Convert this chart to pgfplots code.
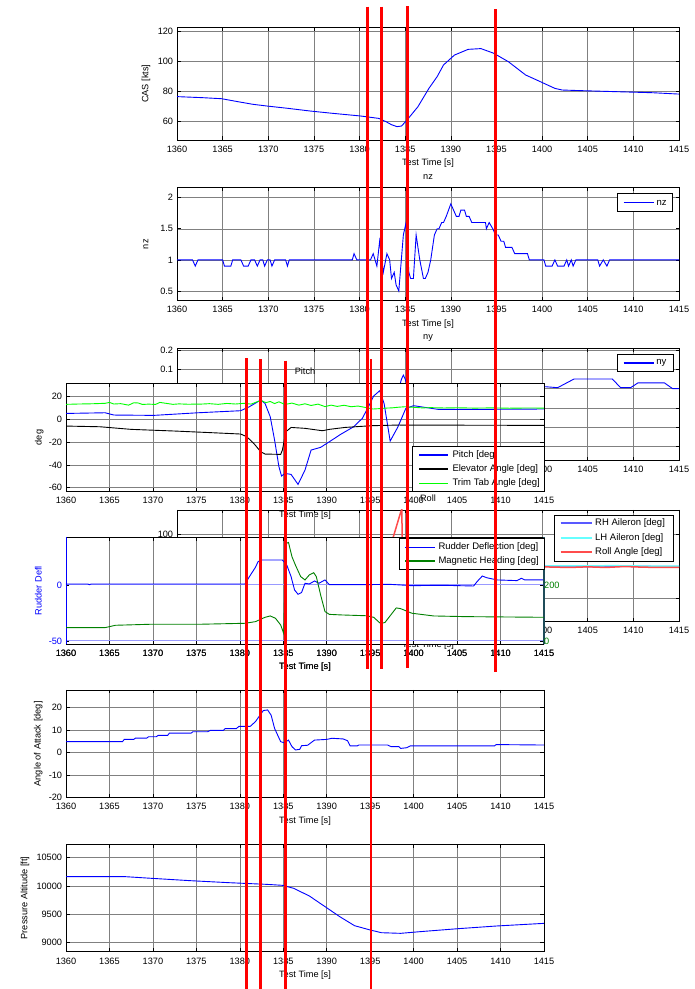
\documentclass[border=0pt]{standalone}
\usepackage{fontspec}
\setmainfont{Liberation Sans}
\usepackage{pgfplots}
\pgfplotsset{compat=1.18}
\definecolor{mblue}{rgb}{0,0,1}
\definecolor{mgreen}{rgb}{0,0.5,0}
\definecolor{tgreen}{rgb}{0,1,0}
\definecolor{rhblue}{rgb}{0.35,0.35,1}
\definecolor{lhcyan}{rgb}{0.4,1,1}
\definecolor{rollred}{rgb}{1,0.3,0.3}
\definecolor{gridc}{gray}{0.5}
\definecolor{tealax}{rgb}{0.12,0.3,0.35}
\tikzset{ltext/.style={anchor=west, inner sep=0pt, font=\fontsize{9.5}{11}\selectfont}}
\pgfplotsset{
  mat/.style={
    scale only axis, anchor=south west,
    xmin=1360, xmax=1415, xtick={1360,1365,...,1415},
    grid=major,
    major grid style={draw=gridc, line width=0.5pt},
    tick align=inside, major tick length=3.5pt,
    tick style={black, line width=0.6pt},
    axis line style={line width=0.9pt},
    scaled y ticks=false,
    /pgf/number format/assume math mode=true,
    /pgf/number format/1000 sep={},
    xticklabel style={anchor=base, yshift=-12.3pt, inner sep=0pt},
    yticklabel style={anchor=east, xshift=-3.7pt, inner sep=0pt},
    every axis x label/.style={at={(axis description cs:0.5,0)}, anchor=base, yshift=-25.5pt},
    every axis y label/.style={at={(axis description cs:-0.06,0.5)}, rotate=90, anchor=center},
    every axis title/.style={at={(axis description cs:0.5,1)}, anchor=base, yshift=8.5pt},
    xlabel={Test Time [s]},
    axis background/.style={fill=white},
  },
  pix/.style={at={(0pt,0pt)}, anchor=south west, scale only axis, width=695pt, height=989pt,
    xmin=0, xmax=695, ymin=0, ymax=989, y dir=reverse, hide axis, clip=false},
  lbox/.style={draw=black, fill=white, line width=0.9pt},
  lline/.style={draw=#1, line width=1.6pt},
}
\begin{document}
\begin{tikzpicture}[font=\fontsize{9.2}{11}\selectfont]
\path[use as bounding box] (0pt,0pt) rectangle (695pt,989pt);

% CAS
\begin{axis}[mat, at={(177pt,849pt)}, width=502pt, height=112.7pt,
  ymin=47.8, ymax=122.9, ytick={60,80,100,120},
  ylabel={CAS [kts]}, ylabel style={at={(axis description cs:-0.0618,0.5)}}]
\addplot[mblue, line width=0.9pt] coordinates {(1360,76.7)(1362.8,76)(1364.9,75.3)(1366.7,73.3)(1368.3,71.6)(1369.9,70.4)(1372,69)(1374.6,67.1)(1377,65.6)(1380.1,63.8)(1382.1,62.2)(1382.9,60)(1383.5,58)(1384.1,56.7)(1384.6,57.1)(1385.2,61.1)(1386.4,70)(1387.6,82.2)(1388.5,90)(1389.2,97.8)(1390.4,104.4)(1391.9,108.2)(1393.3,108.7)(1394.7,105.6)(1396.3,100)(1398.2,91.1)(1399.4,87.8)(1401.4,82.2)(1402.2,81.1)(1404.2,80.7)(1408.1,80)(1412.1,79.3)(1415,78.4)};
\end{axis}

% nz
\begin{axis}[mat, at={(177pt,688.3pt)}, width=502pt, height=113pt,
  ymin=0.344, ymax=2.16, ytick={0.5,1,1.5,2}, title={nz},
  ylabel={nz}, ylabel style={at={(axis description cs:-0.0618,0.5)}}]
\addplot[mblue, line width=0.9pt] coordinates {(1360,1)(1361.7,1)(1362,0.9)(1362.3,1)(1365,1)(1365.2,0.9)(1365.9,0.9)(1366.1,1)(1367,1)(1367.3,0.9)(1367.8,0.9)(1368.1,1)(1368.5,1)(1368.8,0.9)(1369.1,1)(1369.4,1)(1369.6,0.9)(1369.9,1)(1370.2,1)(1370.4,0.9)(1370.7,1)(1371.9,1)(1372.1,0.9)(1372.3,1)(1379.2,1)(1379.4,1.1)(1379.7,1)(1381.2,1)(1381.5,1.1)(1381.9,0.9)(1382.2,1.3)(1382.6,0.8)(1383.0,1.1)(1383.3,1.0)(1383.5,0.7)(1383.8,0.8)(1384.0,0.6)(1384.3,0.5)(1384.8,1.4)(1385.1,1.6)(1385.4,0.8)(1385.6,0.7)(1385.9,0.7)(1386.2,1.4)(1386.6,1.0)(1387.0,0.7)(1387.2,0.7)(1387.5,0.8)(1387.8,1.0)(1388.2,1.4)(1388.5,1.5)(1388.7,1.5)(1389.0,1.6)(1389.2,1.6)(1389.5,1.7)(1390.0,1.9)(1390.3,1.8)(1390.6,1.7)(1390.9,1.7)(1391.1,1.8)(1391.5,1.8)(1391.7,1.7)(1392.0,1.7)(1392.3,1.6)(1393.8,1.6)(1393.9,1.5)(1394.2,1.6)(1394.6,1.5)(1394.9,1.4)(1395.2,1.4)(1395.5,1.3)(1395.8,1.3)(1396.0,1.2)(1396.7,1.2)(1397.0,1.1)(1398.4,1.1)(1398.6,1.0)(1400.2,1.0)(1400.4,0.9)(1401.1,0.9)(1401.4,1.0)(1401.7,0.9)(1402.4,0.9)(1402.7,1.0)(1402.9,0.9)(1403.2,1.0)(1403.4,0.9)(1403.7,1.0)(1406.1,1.0)(1406.3,0.9)(1406.7,1.0)(1407.1,0.9)(1407.4,1.0)(1415,1.0)};
\end{axis}
\begin{axis}[pix]
\addplot[lbox] coordinates {(617.2,193.3)(672.3,193.3)(672.3,211.7)(617.2,211.7)(617.2,193.3)};
\addplot[lline=mblue] coordinates {(623.7,202.5)(654.3,202.5)};
\node[ltext] at (axis cs:656.5,202.5) {nz};
\end{axis}

% ny
\begin{axis}[mat, at={(177pt,528.3pt)}, width=502pt, height=112.4pt,
  ymin=-0.373, ymax=0.209, ytick={-0.3,-0.2,-0.1,0,0.1,0.2}, title={ny},
  ylabel={ny}, ylabel style={at={(axis description cs:-0.0618,0.5)}}]
\addplot[mblue, line width=0.9pt] coordinates {(1360,0)(1362,0)(1362.3,-0.02)(1362.6,0)(1370,0)(1375,0)(1380,0)(1381,-0.03)(1382,0.02)(1383,-0.05)(1383.8,-0.02)(1384.3,0)(1384.6,0.05)(1384.8,0.07)(1385.0,0.05)(1385.3,0)(1386,-0.08)(1387,-0.03)(1388,-0.06)(1390,-0.02)(1392,0)(1395,0.01)(1398,0)(1400.4,0.01)(1401.7,0.005)(1403.5,0.05)(1407.7,0.05)(1408.6,0.005)(1409.7,0.005)(1410.5,0.03)(1413.4,0.03)(1414.3,0)(1415,0)};
\end{axis}
\begin{axis}[pix]
\addplot[lbox] coordinates {(617.7,354)(673.3,354)(673.3,371.7)(617.7,371.7)(617.7,354)};
\addplot[lline=mblue] coordinates {(623.5,362.9)(654,362.9)};
\node[ltext] at (axis cs:656.2,362.9) {ny};
\end{axis}

% Pitch
\begin{axis}[mat, at={(66pt,497.3pt)}, width=478pt, height=108.4pt,
  ymin=-63.5, ymax=31.8, ytick={-60,-40,-20,0,20}, title={Pitch},
  ylabel={deg}, ylabel style={at={(axis description cs:-0.0559,0.5)}}]
\addplot[mblue, line width=0.9pt] coordinates {(1360,5.3)(1364.5,5.9)(1365.5,3.9)(1370.1,3.6)(1375.2,5.9)(1380.1,7.7)(1381.1,11.2)(1382.4,17.1)(1382.9,14.1)(1383.5,2.4)(1384.0,-18.1)(1384.5,-41.5)(1384.8,-49.7)(1385.2,-47.4)(1385.9,-48.3)(1386.7,-57.1)(1387.5,-44.5)(1388.2,-26.9)(1389.3,-24.5)(1390.3,-19.6)(1391.6,-13.1)(1393.1,-6.4)(1394.1,1.0)(1394.9,12.7)(1395.4,20.6)(1396.1,25.3)(1396.6,14.1)(1397.3,-19)(1398.2,-6.4)(1399.1,9.7)(1400.0,12.1)(1400.8,11.2)(1402.8,8.9)(1408.4,8.9)(1415,9.2)};
\addplot[black, line width=0.9pt] coordinates {(1360,-5.8)(1363.9,-6.4)(1367.5,-8.7)(1372.6,-10.2)(1376.7,-11.6)(1380.1,-12.8)(1380.8,-15.2)(1381.6,-21)(1382.4,-28.3)(1382.9,-30.4)(1384.7,-30.7)(1384.9,-26.9)(1385.3,-10.8)(1385.9,-7)(1387.5,-7.8)(1389.5,-9.9)(1390.3,-8.7)(1392.1,-7)(1395.1,-5.5)(1398.2,-4.9)(1415,-5.2)};
\addplot[tgreen, line width=0.9pt] coordinates {(1360,13.3)(1361.5,13.6)(1363,13.8)(1364.5,14.2)(1365,15)(1365.5,13.6)(1366.3,13.9)(1367.2,12.6)(1367.8,14.7)(1368.3,14.5)(1368.8,13.2)(1369.5,13.5)(1370.3,13.2)(1370.8,15)(1371.5,14.2)(1372.3,13.3)(1373,13.7)(1374,13.4)(1375.5,13.5)(1376.5,13.9)(1377.5,13.3)(1378.5,14.1)(1379.5,13.6)(1380.5,14.2)(1381.3,13.5)(1382,15.6)(1382.5,16.5)(1383,14.8)(1383.5,15.8)(1384,14)(1384.5,15.5)(1385.2,13.2)(1386,14.4)(1386.8,12.6)(1387.5,13.8)(1388.2,12.3)(1389,13.5)(1389.8,11.3)(1390.5,12.6)(1391.2,11.5)(1392,12.5)(1392.8,11.2)(1393.6,11.8)(1394.5,10.5)(1395.3,9.2)(1396,9.5)(1396.8,10)(1397.5,10.2)(1398.3,10.8)(1399,11.2)(1400,10.7)(1401,10.2)(1402,10.4)(1403.5,10.1)(1405,10.3)(1407,10.0)(1409,10.2)(1411,9.9)(1413,10.1)(1415,10)};
\end{axis}
\begin{axis}[pix]
\addplot[lbox] coordinates {(412,446.7)(544,446.7)(544,491.5)(412,491.5)(412,446.7)};
\addplot[lline=mblue] coordinates {(419,455)(448.3,455)};
\addplot[lline=black] coordinates {(419,469.2)(448.3,469.2)};
\addplot[lline=tgreen] coordinates {(419,483.3)(448.3,483.3)};
\node[ltext] at (axis cs:452.3,455) {Pitch [deg]};
\node[ltext] at (axis cs:452.3,469.2) {Elevator Angle [deg]};
\node[ltext] at (axis cs:452.3,483.3) {Trim Tab Angle [deg]};
\end{axis}

% Roll
\begin{axis}[mat, at={(177pt,367.3pt)}, width=502pt, height=111.7pt,
  axis background/.style={},
  ymin=-171.4, ymax=175.5, ytick={-100,0,100}, title={Roll}]
\addplot[rhblue, line width=1.5pt] coordinates {(1360,0)(1380,0)(1382,10)(1384,-20)(1386,15)(1388,-5)(1390,0)(1400,0)(1403,1)(1406,-1)(1409,1)(1412,0)(1415,0)};
\addplot[lhcyan, line width=1.5pt] coordinates {(1360,1)(1380,1)(1382,-9)(1384,21)(1386,-14)(1388,6)(1390,1)(1400,1.5)(1404,2)(1408,2.5)(1411,1.5)(1415,1.5)};
\addplot[rollred, line width=1.5pt] coordinates {(1360,0)(1381,0)(1382,5)(1383,40)(1383.7,92)(1384.5,168)(1384.65,179)(1384.66,-179)(1385.2,-120)(1386,-60)(1387,-20)(1389,-5)(1392,0)(1400,-1)(1403,-3)(1405,-1)(1407,-3)(1409,0)(1411,-2)(1413,-3)(1415,-3)};
\end{axis}
\begin{axis}[pix]
\addplot[lbox] coordinates {(554,515)(673.8,515)(673.8,561.7)(554,561.7)(554,515)};
\addplot[draw=rhblue, line width=1.9pt] coordinates {(560.7,523.3)(591.7,523.3)};
\addplot[draw=lhcyan, line width=1.9pt] coordinates {(560.7,538.3)(591.7,538.3)};
\addplot[draw=rollred, line width=1.9pt] coordinates {(560.7,551.7)(591.7,551.7)};
\node[ltext] at (axis cs:595,523.3) {RH Aileron [deg]};
\node[ltext] at (axis cs:595,538.3) {LH Aileron [deg]};
\node[ltext] at (axis cs:595,551.7) {Roll Angle [deg]};
\end{axis}

% Rudder (left axis)
\begin{axis}[mat, at={(66pt,344.7pt)}, width=478pt, height=107pt,
  separate axis lines, y axis line style={blue},
  ymin=-53, ymax=42.6, ytick={-50,0}, ytick pos=left,
  yticklabel style={text=blue},
  major y grid style={draw=blue!40, line width=1pt},
  ylabel={Rudder Defl}, ylabel style={text=blue, at={(axis description cs:-0.058,0.5)}}]
\addplot[mblue, line width=0.9pt] coordinates {(1360,0.9)(1362.5,0.9)(1362.7,0.3)(1362.9,0.9)(1380.6,0.9)(1381.1,7.4)(1381.6,13.4)(1381.8,15.8)(1382.1,20.8)(1382.5,22.3)(1384.9,22.3)(1385.4,17.9)(1385.9,7.4)(1386.3,-4.5)(1386.7,-8.3)(1387.1,-6.8)(1387.5,1.5)(1388.0,0.9)(1388.6,3.6)(1389.1,1.5)(1389.8,4.5)(1390.3,0.3)(1394.6,0.3)(1397.2,0.6)(1399.8,-0.6)(1403.3,-0.3)(1406.9,-0.9)(1407.3,3.0)(1407.9,8.0)(1408.4,6.5)(1409.6,4.5)(1411.9,3.9)(1412.4,6.0)(1412.8,4.5)(1415,4.5)};
\end{axis}

% Rudder (right axis)
\begin{axis}[mat, at={(66pt,344.7pt)}, width=478pt, height=107pt,
  axis background/.style={}, grid=none,
  axis x line*=bottom, x axis line style={draw=none}, xtick style={draw=none},
  axis y line*=right, y axis line style={draw=tealax, line width=1.1pt, -},
  ymin=-12, ymax=370.4, ytick={0,200},
  yticklabel style={anchor=west, xshift=3.7pt, text=mgreen}]
\addplot[mgreen, line width=0.9pt] coordinates {(1360,47.6)(1364.5,47.6)(1365.7,56)(1369.6,59.5)(1375.2,59.5)(1380.6,63.1)(1381.8,69)(1382.9,84.5)(1383.5,89.3)(1384.1,81)(1384.7,57.1)(1385.05,27)(1385.3,348)(1385.6,352)(1386.0,301)(1386.4,271)(1387.0,230)(1387.5,218)(1388.0,236)(1388.5,244)(1388.8,230)(1389.3,164)(1389.8,105)(1390.3,95)(1391.6,93)(1394.6,90)(1395.4,84.5)(1396.2,62)(1396.7,66)(1398.0,118)(1398.5,115.5)(1399.8,99)(1402.3,89.3)(1405.9,86.9)(1415,84.5)};
\end{axis}
\begin{axis}[pix]
\addplot[lbox] coordinates {(399.8,538.3)(544.3,538.3)(544.3,569.3)(399.8,569.3)(399.8,538.3)};
\addplot[lline=mblue] coordinates {(405,547.3)(435,547.3)};
\addplot[lline=mgreen] coordinates {(405,561)(435,561)};
\node[ltext] at (axis cs:438.3,547.3) {Rudder Deflection [deg]};
\node[ltext] at (axis cs:438.3,561) {Magnetic Heading [deg]};
\end{axis}

% Angle of attack
\begin{axis}[mat, at={(66pt,191.3pt)}, width=478pt, height=107.7pt,
  ymin=-20, ymax=27.85, ytick={-20,-10,0,10,20},
  ylabel={Angle of Attack [deg]}, ylabel style={at={(axis description cs:-0.058,0.5)}}]
\addplot[mblue, line width=0.9pt] coordinates {(1360,4.9)(1366.5,4.9)(1366.7,5.9)(1367.8,5.9)(1368.0,6.5)(1369.3,6.5)(1369.5,7.1)(1370.4,7.1)(1370.6,7.7)(1371.7,7.7)(1371.9,8.7)(1374.4,8.7)(1374.6,9.3)(1376.3,9.3)(1376.6,9.9)(1378.1,9.9)(1378.3,10.7)(1379.6,10.7)(1379.9,11.7)(1381.2,11.7)(1381.8,13.8)(1382.2,16)(1382.7,18.7)(1383.2,19)(1383.6,16.7)(1384.0,10.8)(1384.7,4.9)(1385.1,4.4)(1385.6,5.6)(1386.0,2.7)(1386.4,1.2)(1386.9,1.5)(1387.1,3.1)(1387.8,3.3)(1388.6,5.6)(1390.0,5.9)(1390.6,6.4)(1391.9,6.1)(1392.4,5.3)(1392.7,3.0)(1393.5,3.0)(1393.7,3.4)(1397.0,3.4)(1397.4,2.7)(1398.3,2.7)(1398.5,1.9)(1399.2,2.2)(1399.6,3.0)(1409.3,3.0)(1409.5,3.6)(1415,3.4)};
\end{axis}

% Pressure altitude
\begin{axis}[mat, at={(66pt,37.3pt)}, width=478pt, height=107.7pt,
  ymin=8841, ymax=10741, ytick={9000,9500,10000,10500},
  ylabel={Pressure Altitude [ft]}, ylabel style={at={(axis description cs:-0.0858,0.5)}}]
\addplot[mblue, line width=0.9pt] coordinates {(1360,10165)(1366.8,10165)(1369.9,10135)(1374.3,10094)(1378.7,10059)(1383.1,10029)(1384.9,10012)(1386.2,9959)(1388.0,9824)(1389.7,9647)(1391.5,9459)(1393.2,9300)(1395,9224)(1396.3,9176)(1398.5,9165)(1400.7,9194)(1405.1,9247)(1409.5,9294)(1415,9341)};
\end{axis}

% red marker lines (pixel frame)
\begin{axis}[pix]
\addplot[red, line width=2.8pt] coordinates {(367.1,6.7)(367.1,669.3)};
\addplot[red, line width=2.8pt] coordinates {(381.8,6.7)(381.8,669.3)};
\addplot[red, line width=2.8pt] coordinates {(407.6,6)(407.6,668.3)};
\addplot[red, line width=2.8pt] coordinates {(495.2,9.3)(495.2,671.7)};
\addplot[red, line width=2.8pt] coordinates {(246.5,358.3)(246.5,989)};
\addplot[red, line width=2.8pt] coordinates {(260.2,359.3)(260.2,989)};
\addplot[red, line width=2.8pt] coordinates {(285.5,360.7)(285.5,989)};
\addplot[red, line width=2.8pt] coordinates {(371,359.3)(371,989)};
\end{axis}
\end{tikzpicture}
\end{document}
